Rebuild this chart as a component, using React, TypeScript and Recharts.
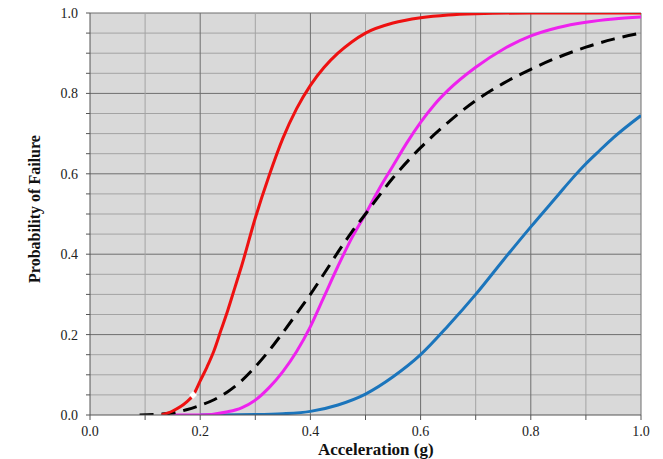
import { ComposedChart, Line, XAxis, YAxis, CartesianGrid, ReferenceLine } from "recharts";

// fragility curves: x = acceleration (g), y = probability of failure
const redX = [0.13, 0.15, 0.175, 0.1875, 0.2, 0.2125, 0.225, 0.2375, 0.25, 0.2625, 0.275, 0.3, 0.325, 0.35, 0.375, 0.4, 0.425, 0.45, 0.475, 0.5, 0.55, 0.6, 0.65, 0.7, 0.8, 0.9, 1.0];
const redY = [0.0, 0.01, 0.032, 0.05, 0.085, 0.12, 0.16, 0.21, 0.26, 0.315, 0.37, 0.49, 0.595, 0.688, 0.762, 0.82, 0.865, 0.9, 0.928, 0.95, 0.975, 0.988, 0.995, 0.998, 1.0, 1.0, 1.0];

const blackX = [0.09, 0.125, 0.15, 0.175, 0.2, 0.225, 0.25, 0.275, 0.3, 0.325, 0.35, 0.375, 0.4, 0.425, 0.45, 0.475, 0.5, 0.55, 0.6, 0.65, 0.7, 0.75, 0.8, 0.85, 0.9, 0.95, 1.0];
const blackY = [0.0, 0.002, 0.005, 0.013, 0.024, 0.038, 0.058, 0.085, 0.12, 0.16, 0.205, 0.252, 0.3, 0.352, 0.405, 0.455, 0.5, 0.59, 0.665, 0.728, 0.782, 0.825, 0.86, 0.89, 0.915, 0.935, 0.95];

const magX = [0.15, 0.2, 0.25, 0.275, 0.3, 0.325, 0.35, 0.375, 0.4, 0.425, 0.45, 0.475, 0.5, 0.525, 0.55, 0.575, 0.6, 0.625, 0.65, 0.7, 0.75, 0.8, 0.85, 0.9, 0.95, 1.0];
const magY = [0.0, 0.0, 0.008, 0.018, 0.037, 0.068, 0.108, 0.158, 0.22, 0.295, 0.37, 0.44, 0.5, 0.563, 0.62, 0.677, 0.728, 0.772, 0.808, 0.865, 0.91, 0.943, 0.964, 0.977, 0.985, 0.99];

const blueX = [0.2, 0.3, 0.35, 0.4, 0.45, 0.5, 0.55, 0.6, 0.65, 0.7, 0.75, 0.8, 0.85, 0.875, 0.9, 0.925, 0.95, 1.0];
const blueY = [0.0, 0.001, 0.003, 0.009, 0.025, 0.052, 0.095, 0.15, 0.222, 0.3, 0.385, 0.468, 0.548, 0.588, 0.625, 0.658, 0.69, 0.745];

const markX = [0.187];
const markY = [0.05];

const xTicks = [0, 0.1, 0.2, 0.3, 0.4, 0.5, 0.6, 0.7, 0.8, 0.9, 1.0];
const yTicks = [0, 0.05, 0.1, 0.15, 0.2, 0.25, 0.3, 0.35, 0.4, 0.45, 0.5, 0.55, 0.6, 0.65, 0.7, 0.75, 0.8, 0.85, 0.9, 0.95, 1.0];

const zip = (xs: number[], ys: number[]) => xs.map((x, i) => ({ x, y: ys[i] }));

const isMajor = (v: number) => Math.abs(Math.round(v * 10) % 2) === 0 && Math.abs(v * 10 - Math.round(v * 10)) < 1e-6;

const serif = "'Liberation Serif', 'Times New Roman', serif";
const tickStyle = { fill: "#222", fontSize: 14, fontFamily: serif };

const Diamond = (props: any) => {
  const { cx, cy } = props;
  if (cx == null || cy == null) return null;
  return <path d={`M${cx},${cy - 4}L${cx + 4},${cy}L${cx},${cy + 4}L${cx - 4},${cy}Z`} fill="#fff" stroke="none" />;
};

export default function App() {
  return (
    <div style={{ position: "fixed", left: 0, top: 0, width: 663, height: 459, background: "#fff", fontFamily: serif }}>
      <ComposedChart width={663} height={459} margin={{ top: 13, right: 22, bottom: 14, left: 30 }}>
        <CartesianGrid fill="#d9d9d9" horizontal={false} vertical={false} />
        {yTicks.filter((v) => v > 0).map((v) => (
          <ReferenceLine key={"h" + v} y={v} stroke={isMajor(v) ? "#6e6e6e" : "#a3a3a3"} strokeWidth={1} />
        ))}
        {xTicks.filter((v) => v > 0).map((v) => (
          <ReferenceLine key={"v" + v} x={v} stroke={isMajor(v) ? "#6e6e6e" : "#a3a3a3"} strokeWidth={1} />
        ))}
        <XAxis
          type="number"
          dataKey="x"
          domain={[0, 1]}
          ticks={xTicks}
          interval={0}
          tickFormatter={(v: number) => (isMajor(v) ? v.toFixed(1) : "")}
          tick={tickStyle}
          tickSize={5}
          tickMargin={6}
          axisLine={{ stroke: "#555" }}
          tickLine={{ stroke: "#555" }}
          height={30}
          allowDataOverflow
        />
        <YAxis
          type="number"
          dataKey="y"
          domain={[0, 1]}
          ticks={yTicks}
          interval={0}
          tickFormatter={(v: number) => (isMajor(v) ? v.toFixed(1) : "")}
          tick={tickStyle}
          tickSize={4}
          tickMargin={8}
          axisLine={{ stroke: "#555" }}
          tickLine={{ stroke: "#555" }}
          width={60}
          allowDataOverflow
        />
        <Line data={zip(blueX, blueY)} dataKey="y" type="monotone" stroke="#1b75bc" strokeWidth={3} dot={false} isAnimationActive={false} />
        <Line data={zip(magX, magY)} dataKey="y" type="monotone" stroke="#ee22ee" strokeWidth={3} dot={false} isAnimationActive={false} />
        <Line data={zip(blackX, blackY)} dataKey="y" type="monotone" stroke="#000" strokeWidth={3} strokeDasharray="14 8" dot={false} isAnimationActive={false} />
        <Line data={zip(redX, redY)} dataKey="y" type="monotone" stroke="#ee1111" strokeWidth={3} dot={false} isAnimationActive={false} />
        <Line data={zip(markX, markY)} dataKey="y" stroke="none" dot={<Diamond />} isAnimationActive={false} />
      </ComposedChart>
      <div
        style={{
          position: "absolute",
          left: 318,
          top: 440,
          fontWeight: "bold",
          fontSize: 17,
          lineHeight: "19px",
          color: "#111",
          whiteSpace: "nowrap",
        }}
      >
        Acceleration (g)
      </div>
      <div
        style={{
          position: "absolute",
          left: 35,
          top: 209,
          transform: "translate(-50%, -50%) rotate(-90deg)",
          fontWeight: "bold",
          fontSize: 16,
          lineHeight: "18px",
          color: "#111",
          whiteSpace: "nowrap",
        }}
      >
        Probability of Failure
      </div>
    </div>
  );
}
